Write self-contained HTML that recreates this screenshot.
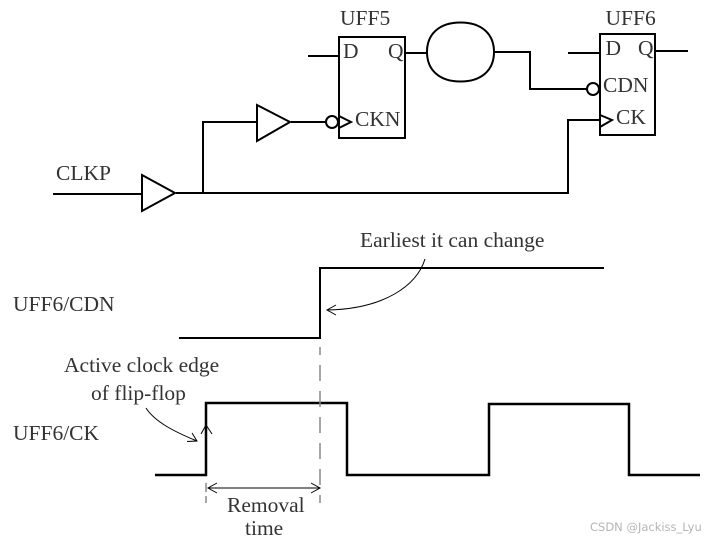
<!DOCTYPE html>
<html><head><meta charset="utf-8">
<style>
html,body{margin:0;padding:0;background:#fff;width:718px;height:539px;overflow:hidden}
svg{display:block}
text{font-family:"Liberation Serif",serif;fill:#333;font-size:21.5px}
</style></head>
<body>
<svg width="718" height="539" viewBox="0 0 718 539" xmlns="http://www.w3.org/2000/svg">
<g fill="none" stroke="#000" stroke-width="2">
<rect x="339" y="37" width="66" height="101"/>
<rect x="600" y="34" width="55" height="101"/>
<path d="M308 56H339M405 53H427M494 52H530V89H587M568 53H600M655 51H688"/>
<path d="M53 194H142M176 193H568V120H600"/>
<path d="M203 193V122H257M291 122H326"/>
<polygon points="142,175 175,193 142,211"/>
<polygon points="257,105 290,122 257,141"/>
<path d="M427 52C427 33.700 439.700 22.500 460.500 22.500C481.300 22.500 494 33.700 494 52C494 70.300 481.300 81.500 460.500 81.500C439.700 81.500 427 70.300 427 52Z"/>
<circle cx="332" cy="122" r="6"/>
<circle cx="593" cy="89" r="6"/>
<path d="M339 116L351 122L339 128M600 115L612 120L600 127"/>
<path d="M179 338H320V268H604"/>
<path d="M155 475H206V403H347V475H489V404H629V475H700" stroke-width="2.500"/>
</g>
<g fill="none" stroke="#000" stroke-width="1">
<path d="M425 259C417 285 385 309 327 310M336 305L327 310L336 315"/>
<path d="M146 408C155 422 175 432 197 441M187 441.500L197 441L192 433"/>
<path d="M201 434L206 425L212 434"/>
<path d="M208 488H320M217 483L208 488L217 493M311 483L320 488L311 493"/>
</g>
<g fill="none" stroke="#888" stroke-width="1.500">
<path d="M320 347V503" stroke-dasharray="16 10" stroke-dashoffset="8"/>
<path d="M206 483V503" stroke-dasharray="9 4"/>
</g>
<text x="340" y="25">UFF5</text>
<text x="605.500" y="25">UFF6</text>
<text x="343" y="58">D</text>
<text x="388" y="58">Q</text>
<text x="605.500" y="55">D</text>
<text x="638" y="55">Q</text>
<text x="603" y="92">CDN</text>
<text x="616" y="124">CK</text>
<text x="355" y="126">CKN</text>
<text x="56" y="180">CLKP</text>
<text x="360" y="247">Earliest it can change</text>
<text x="13" y="311">UFF6/CDN</text>
<text x="64" y="372">Active clock edge</text>
<text x="91" y="400">of flip-flop</text>
<text x="13" y="440">UFF6/CK</text>
<text x="227" y="512">Removal</text>
<text x="245" y="535">time</text>
<text x="590" y="531" style="font-family:'DejaVu Sans','Liberation Sans',sans-serif;font-size:11.5px;fill:#b5b5b5">CSDN @Jackiss_Lyu</text>
</svg>
</body></html>
